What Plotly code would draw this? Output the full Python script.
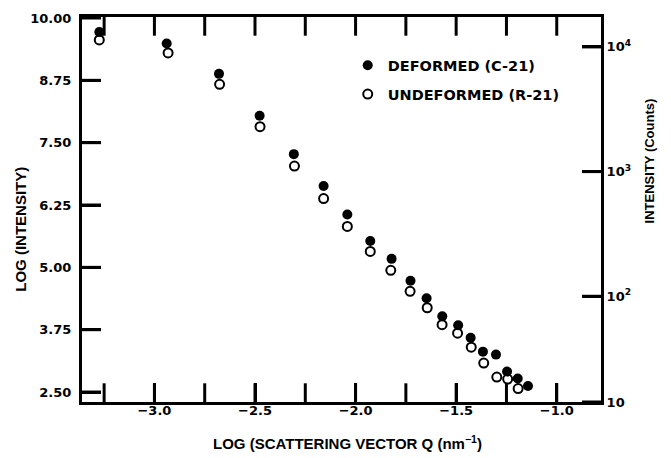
import plotly.graph_objects as go

# Data
deformed_x = [-3.274, -2.939, -2.679, -2.477, -2.307, -2.159, -2.041, -1.927, -1.821, -1.727,
              -1.647, -1.569, -1.490, -1.428, -1.367, -1.302, -1.247, -1.194, -1.143]
deformed_y = [9.72, 9.49, 8.88, 8.04, 7.27, 6.63, 6.06, 5.53, 5.17, 4.73,
              4.38, 4.02, 3.84, 3.59, 3.31, 3.25, 2.91, 2.77, 2.62]
undeformed_x = [-3.274, -2.932, -2.676, -2.475, -2.304, -2.159, -2.041, -1.927, -1.825, -1.729,
                -1.644, -1.570, -1.493, -1.425, -1.363, -1.298, -1.244, -1.192]
undeformed_y = [9.56, 9.30, 8.67, 7.82, 7.03, 6.38, 5.82, 5.32, 4.94, 4.52,
                4.19, 3.85, 3.68, 3.40, 3.08, 2.80, 2.76, 2.57]

x_tickvals = [-3.0, -2.5, -2.0, -1.5, -1.0]
x_all_ticks = [-3.25, -3.0, -2.75, -2.5, -2.25, -2.0, -1.75, -1.5, -1.25, -1.0]
y_tickvals = [2.50, 3.75, 5.00, 6.25, 7.50, 8.75, 10.00]
right_tickvals = [9.42, 6.92, 4.42, 2.30]
right_ticktext = ["10<sup>4</sup>", "10<sup>3</sup>", "10<sup>2</sup>", "10"]

FONT = "Liberation Sans, Arial, Helvetica, sans-serif"
TICKFONT = "DejaVu Sans, Verdana, sans-serif"
yrange = [2.30, 10.02]
TL = 19  # tick length in px

fig = go.Figure()
fig.add_trace(go.Scatter(
    x=deformed_x, y=deformed_y, mode="markers", name="DEFORMED (C-21)",
    legendgroup="a",
    marker=dict(symbol="circle", size=10, color="black"),
))
fig.add_trace(go.Scatter(
    x=undeformed_x, y=undeformed_y, mode="markers", name="UNDEFORMED (R-21)",
    legendgroup="b",
    marker=dict(symbol="circle-open", size=9, color="black", line=dict(width=2, color="black")),
))
fig.add_trace(go.Scatter(x=[None], y=[None], yaxis="y2", showlegend=False, hoverinfo="skip"))

tick_common = dict(ticks="inside", ticklen=TL, tickwidth=3, tickcolor="black",
                   showgrid=False, zeroline=False)

# tick marks as shapes in data/paper coordinates (y-extent of x ticks in paper units)
shapes = []
tick_line = dict(color="black", width=3)
xt = TL / 391.0
yt = TL / 519.0
for v in x_all_ticks:
    shapes.append(dict(type="line", xref="x", yref="paper",
                       x0=v, x1=v, y0=0, y1=xt, line=tick_line, layer="above"))
    shapes.append(dict(type="line", xref="x", yref="paper",
                       x0=v, x1=v, y0=1, y1=1 - xt, line=tick_line, layer="above"))
for v in y_tickvals:
    shapes.append(dict(type="line", xref="paper", yref="y",
                       x0=0, x1=yt, y0=v, y1=v, line=tick_line, layer="above"))
for v in right_tickvals:
    shapes.append(dict(type="line", xref="paper", yref="y",
                       x0=1, x1=1 - yt, y0=v, y1=v, line=tick_line, layer="above"))

fig.update_layout(
    width=671, height=458,
    margin=dict(l=82, r=70, t=11, b=56),
    paper_bgcolor="white", plot_bgcolor="white",
    font=dict(family=FONT, size=14, color="black"),
    showlegend=True,
    legend=dict(x=0.512, y=0.916, xanchor="left", yanchor="top",
                bgcolor="rgba(0,0,0,0)", traceorder="grouped", tracegroupgap=7,
                font=dict(size=14.5, family=TICKFONT, weight="bold"), itemwidth=30),
    xaxis=dict(
        range=[-3.36, -0.78], tickmode="array", tickvals=x_tickvals, tickformat=".1f",
        showline=True, linewidth=3, linecolor="black", mirror=True,
        ticklabelstandoff=-6,
        tickfont=dict(size=13, family=TICKFONT, weight="bold"),
        **tick_common,
    ),
    yaxis=dict(
        range=yrange, tickmode="array", tickvals=y_tickvals, tickformat=".2f",
        showline=True, linewidth=3, linecolor="black", mirror=False,
        ticklabelstandoff=5,
        tickfont=dict(size=13, family=TICKFONT, weight="bold"),
        **tick_common,
    ),
    yaxis2=dict(
        range=yrange, overlaying="y", side="right", tickmode="array",
        tickvals=right_tickvals, ticktext=right_ticktext,
        showline=True, linewidth=3, linecolor="black",
        tickfont=dict(size=13, family=TICKFONT, weight="bold"),
        **tick_common,
    ),
    shapes=shapes,
    annotations=[
        dict(text="LOG (SCATTERING VECTOR Q (nm<sup>−1</sup>)", xref="paper", yref="paper",
             x=0.511, y=-0.105, xanchor="center", yanchor="middle", showarrow=False,
             font=dict(size=15, family=FONT, weight="bold")),
        dict(text="LOG (INTENSITY)", xref="paper", yref="paper", textangle=-90,
             x=-0.119, y=0.448, xanchor="center", yanchor="middle", showarrow=False,
             font=dict(size=15, family=FONT, weight="bold")),
        dict(text="INTENSITY (Counts)", xref="paper", yref="paper", textangle=-90,
             x=1.094, y=0.627, xanchor="center", yanchor="middle", showarrow=False,
             font=dict(size=13, family=FONT, weight="bold")),
    ],
)

fig.write_html("out.html")
